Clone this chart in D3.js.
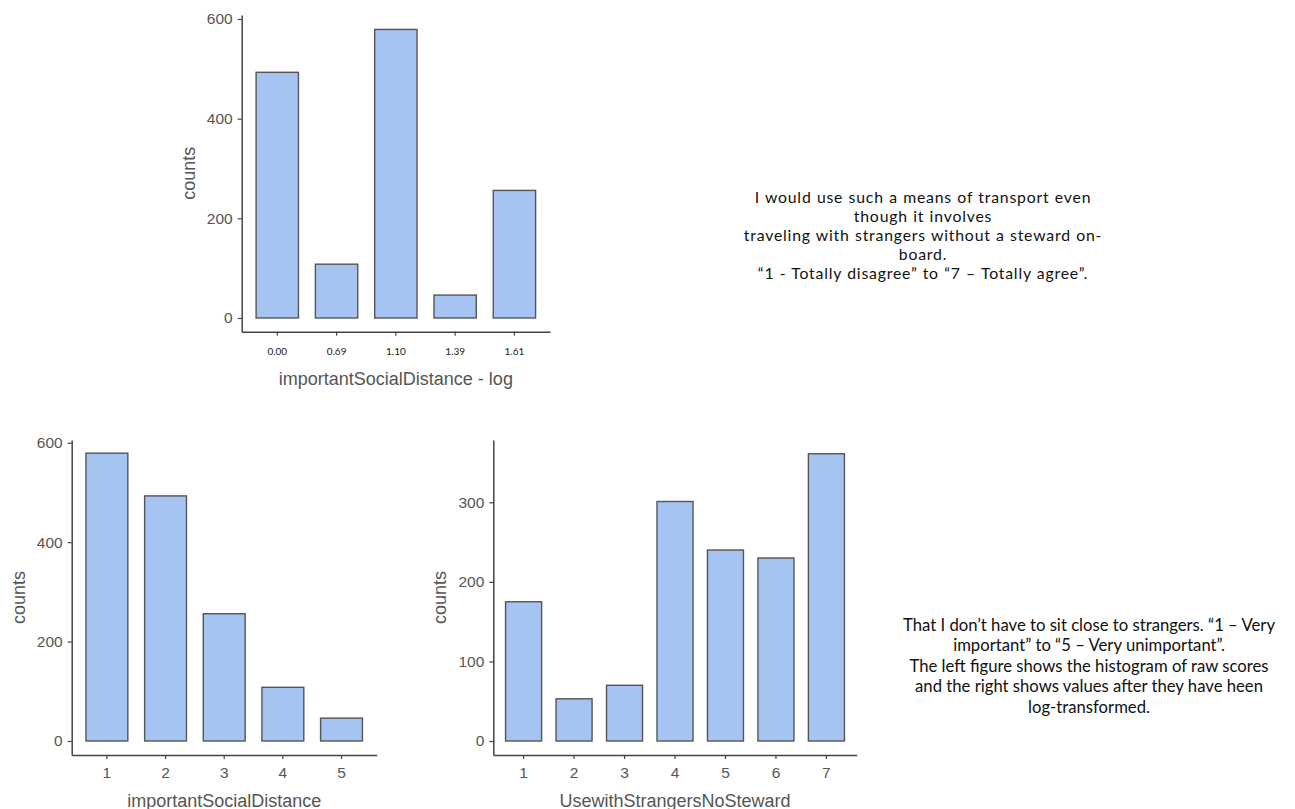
<!DOCTYPE html>
<html><head><meta charset="utf-8">
<script src="https://cdn.jsdelivr.net/npm/d3@7"></script>
<style>
body{margin:0;background:#fff;}
svg{display:block;}
</style></head>
<body>
<svg id="c" width="1295" height="809"></svg>
<script>
// ---- data ----
const logCategories = ["0.00","0.69","1.10","1.39","1.61"];
const logCounts = [493, 108, 579, 46, 256];
const rawCategories = ["1","2","3","4","5"];
const rawCounts = [579, 493, 256, 108, 46];
const strangerCategories = ["1","2","3","4","5","6","7"];
const strangerCounts = [175, 53, 70, 301, 240, 230, 361];
const ticksCounts600 = [0, 200, 400, 600];
const ticksCounts300 = [0, 100, 200, 300];
const note1 = ["I would use such a means of transport even","though it involves","traveling with strangers without a steward on-","board.","\u201c1 - Totally disagree\u201d to \u201c7 \u2013 Totally agree\u201d."];
const note2 = ["That I don\u2019t  have to sit close to strangers. \u201c1 \u2013 Very","important\u201d  to \u201c5 \u2013 Very unimportant\u201d.","The left figure shows the histogram of raw scores","and the right shows values after they have heen","log-transformed."];

const svg = d3.select("#c");
const AX = "#444", LBL = "#555";

function chart(o){
  const g = svg.append("g");
  const x = d3.scaleBand().domain(o.cats).range([o.x0, o.x1]).paddingInner(0.286).paddingOuter(0.243);
  const y = d3.scaleLinear().domain(o.yd).range([o.yb, o.yt]);
  // bars
  g.selectAll("rect").data(o.vals).join("rect")
    .attr("x", (d,i)=>x(o.cats[i]))
    .attr("width", x.bandwidth())
    .attr("y", d=>y(d))
    .attr("height", d=>y(0)-y(d))
    .attr("fill", "#a6c4f2")
    .attr("stroke", "#555")
    .attr("stroke-width", 1.4);
  // y axis
  const ya = g.append("g").attr("transform", `translate(${o.x0},0)`)
    .call(d3.axisLeft(y).tickValues(o.yticks).tickSize(4).tickSizeOuter(0).tickPadding(5));
  ya.select(".domain").attr("stroke", AX).attr("stroke-width", 1.5);
  ya.selectAll(".tick line").attr("stroke", AX).attr("stroke-width", 1.2);
  ya.selectAll(".tick text").attr("fill", LBL).style("font-family","'Liberation Sans', Arial, sans-serif").style("font-size","15.5px");
  // x axis
  const xa = g.append("g").attr("transform", `translate(0,${o.yb})`)
    .call(d3.axisBottom(x).tickSize(4).tickSizeOuter(0).tickPadding(o.smallX?12:8));
  xa.select(".domain").attr("stroke", AX).attr("stroke-width", 1.5);
  xa.selectAll(".tick line").attr("stroke", AX).attr("stroke-width", 1.2);
  if (o.smallX) {
    xa.selectAll(".tick text").attr("fill", "#222").style("font-family","Lato, 'Open Sans', sans-serif").style("font-size","10px");
  } else {
    xa.selectAll(".tick text").attr("fill", LBL).style("font-family","'Liberation Sans', Arial, sans-serif").style("font-size","15.5px");
  }
  // titles
  g.append("text").attr("x", (o.x0+o.x1)/2).attr("y", o.xTitleY)
    .attr("text-anchor","middle").attr("fill", LBL)
    .style("font-family","'Liberation Sans', Arial, sans-serif").style("font-size","18px")
    .text(o.xTitle);
  g.append("text").attr("transform", `translate(${o.yTitleX},${(o.yt+o.yb)/2}) rotate(-90)`)
    .attr("text-anchor","middle").attr("dy","0.35em").attr("fill", LBL)
    .style("font-family","'Liberation Sans', Arial, sans-serif").style("font-size","18px")
    .text("counts");
}

chart({cats:logCategories, vals:logCounts, x0:241.7, x1:550, yb:331.7, yt:15, yd:[-27.5,608],
  yticks:ticksCounts600, smallX:true, xTitle:"importantSocialDistance - log", xTitleY:384.5, yTitleX:189});
chart({cats:rawCategories, vals:rawCounts, x0:71.7, x1:376.7, yb:755, yt:440, yd:[-28.2,605.5],
  yticks:ticksCounts600, xTitle:"importantSocialDistance", xTitleY:806.5, yTitleX:19});
chart({cats:strangerCategories, vals:strangerCounts, x0:493.3, x1:856.7, yb:755, yt:440, yd:[-17.6,378.3],
  yticks:ticksCounts300, xTitle:"UsewithStrangersNoSteward", xTitleY:806.5, yTitleX:440});

function note(lines, cx, y0, lh, fs, ls, ws){
  const t = svg.append("text").attr("text-anchor","middle").attr("fill","#111")
    .style("font-family","Lato, 'Open Sans', sans-serif").style("font-size", fs + "px")
    .style("letter-spacing", ls + "px").style("word-spacing", ws + "px");
  lines.forEach((s,i)=>t.append("tspan").attr("x",cx).attr("y",y0+i*lh).attr("dy","0.35em").text(s));
}
note(note1, 923, 197, 19, 15.8, 0.8, 0.5);
note(note2, 1089, 625, 20.5, 16.7, 0, 0);
</script>
</body></html>
